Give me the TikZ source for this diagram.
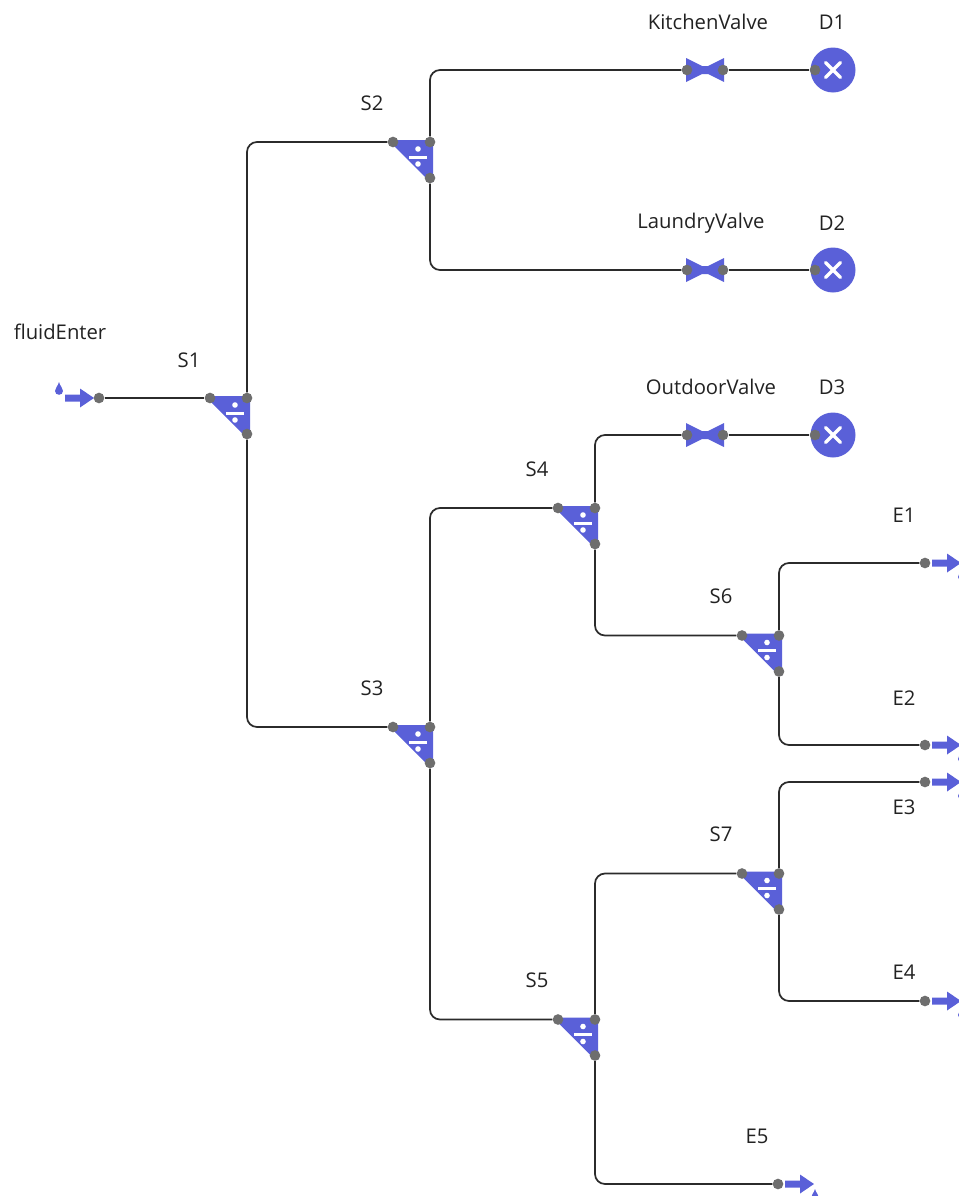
\documentclass[tikz,border=0pt]{standalone}
\usepackage{fontspec}
\setmainfont{Open Sans}
\usepackage{xcolor}
\usetikzlibrary{calc}
\definecolor{flow}{HTML}{5A60D8}
\definecolor{pipecol}{HTML}{2B2B2B}
\definecolor{portcol}{HTML}{6E6E6E}
\definecolor{textcol}{HTML}{222222}
\tikzset{
  pipe/.style={draw=pipecol, line width=1.3pt, rounded corners=7.5pt},
  port/.style={circle, fill=portcol, inner sep=0pt, minimum size=8pt},
  body/.style={fill=flow},
  cross/.style={draw=white, line width=2.6pt, line cap=round},
  lab/.style={text=textcol, font=\fontsize{15.2}{17}\selectfont, inner sep=0pt},
  pics/drop/.style={code={
    \fill[body] (0,-6) .. controls (1,-2) and (4,0) .. (4,3)
      .. controls (4,8) and (-4,8) .. (-4,3) .. controls (-4,0) and (-1,-2) .. (0,-6) -- cycle;
  }},
  pics/arrowbody/.style={code={
    \fill[body] (0,-3.5) -- (15,-3.5) -- (15,-9.5) -- (29,0) -- (15,9.5) -- (15,3.5) -- (0,3.5) -- cycle;
  }},
  pics/splitter/.style={code={
    \fill[body] (-2,-2) -- (40,-2) -- (40,40) -- (37,40) -- (0,3) -- cycle;
    \fill[white] (16,13.5) rectangle (34,16.5);
    \fill[white] (25,7) circle (2.8);
    \fill[white] (25,22) circle (2.8);
    \node[port] (-in) at (0,0) {};
    \node[port] (-top) at (37,0) {};
    \node[port] (-bot) at (37,36) {};
  }},
  pics/valve/.style={code={
    \fill[body] (-1,-12) -- (15,-4) -- (21,-4) -- (37,-12) -- (37,12) -- (21,4) -- (15,4) -- (-1,12) -- cycle;
    \node[port] (-in) at (0,0) {};
    \node[port] (-out) at (36,0) {};
  }},
  pics/drain/.style={code={
    \fill[body] (18,0) circle (22.5);
    \draw[cross] (10.5,-7.5) -- (25.5,7.5);
    \draw[cross] (10.5,7.5) -- (25.5,-7.5);
    \node[port] (-in) at (0,0) {};
  }},
  pics/outlet/.style={code={
    \pic at (7,0) {arrowbody};
    \pic at (37,11) {drop};
    \node[port] (-in) at (0,0) {};
  }},
  pics/inlet/.style={code={
    \pic at (-34,0) {arrowbody};
    \pic at (-40,-10) {drop};
    \node[port] (-out) at (0,0) {};
  }},
}
\begin{document}
\begin{tikzpicture}[x=0.75pt,y=-0.75pt]
  \useasboundingbox (0,0) rectangle (959,1196);
  \clip (0,0) rectangle (959,1196);

  \pic (fluidEnter) at (99,398) {inlet};
  \pic (S1) at (210,398) {splitter};
  \pic (S2) at (393,142) {splitter};
  \pic (S3) at (393,727) {splitter};
  \pic (S4) at (558,508) {splitter};
  \pic (S5) at (558,1019.5) {splitter};
  \pic (S6) at (742,635.5) {splitter};
  \pic (S7) at (742,873.5) {splitter};
  \pic (KitchenValve) at (687,70) {valve};
  \pic (LaundryValve) at (687,270) {valve};
  \pic (OutdoorValve) at (687,435) {valve};
  \pic (D1) at (815,70) {drain};
  \pic (D2) at (815,270) {drain};
  \pic (D3) at (815,435) {drain};
  \pic (E1) at (925,563) {outlet};
  \pic (E2) at (925,745) {outlet};
  \pic (E3) at (925,782) {outlet};
  \pic (E4) at (925,1001) {outlet};
  \pic (E5) at (778,1184) {outlet};

  \draw[pipe] (fluidEnter-out) -- (S1-in);
  \draw[pipe] (S1-top) |- (S2-in);
  \draw[pipe] (S1-bot) |- (S3-in);
  \draw[pipe] (S2-top) |- (KitchenValve-in);
  \draw[pipe] (S2-bot) |- (LaundryValve-in);
  \draw[pipe] (S3-top) |- (S4-in);
  \draw[pipe] (S3-bot) |- (S5-in);
  \draw[pipe] (S4-top) |- (OutdoorValve-in);
  \draw[pipe] (S4-bot) |- (S6-in);
  \draw[pipe] (S5-top) |- (S7-in);
  \draw[pipe] (S5-bot) |- (E5-in);
  \draw[pipe] (S6-top) |- (E1-in);
  \draw[pipe] (S6-bot) |- (E2-in);
  \draw[pipe] (S7-top) |- (E3-in);
  \draw[pipe] (S7-bot) |- (E4-in);
  \draw[pipe] (KitchenValve-out) -- (D1-in);
  \draw[pipe] (LaundryValve-out) -- (D2-in);
  \draw[pipe] (OutdoorValve-out) -- (D3-in);

  \node[lab] (labFluid) at (60,332) {fluidEnter};
  \node[lab] (labS1) at (189,360) {S1};
  \node[lab] (labS2) at (372,103) {S2};
  \node[lab] (labS3) at (372,688) {S3};
  \node[lab] (labS4) at (537,469) {S4};
  \node[lab] (labS5) at (537,980) {S5};
  \node[lab] (labS6) at (721,596) {S6};
  \node[lab] (labS7) at (721,834) {S7};
  \node[lab] (labKitchen) at (708,22) {KitchenValve};
  \node[lab] (labLaundry) at (701,223) {LaundryValve};
  \node[lab] (labOutdoor) at (711,387) {OutdoorValve};
  \node[lab] (labD1) at (832,22) {D1};
  \node[lab] (labD2) at (832,223) {D2};
  \node[lab] (labD3) at (832,387) {D3};
  \node[lab] (labE1) at (904,515) {E1};
  \node[lab] (labE2) at (904,698) {E2};
  \node[lab] (labE3) at (904,807) {E3};
  \node[lab] (labE4) at (904,972) {E4};
  \node[lab] (labE5) at (757,1136) {E5};
\end{tikzpicture}
\end{document}
